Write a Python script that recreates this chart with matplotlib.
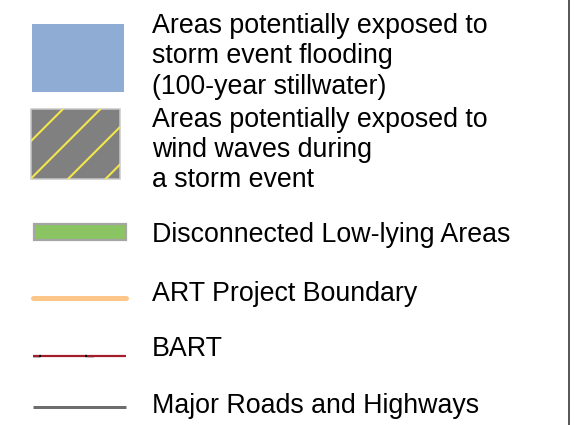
import numpy as np
import matplotlib.pyplot as plt
from matplotlib.patches import Rectangle

plt.rcParams['font.family'] = ['Liberation Sans', 'DejaVu Sans']

# legend entries (one list item per printed line)
flood_label = ['Areas potentially exposed to', 'storm event flooding', '(100-year stillwater)']
wave_label = ['Areas potentially exposed to', 'wind waves during', 'a storm event']
lowlying_label = 'Disconnected Low-lying Areas'
line_labels = ['ART Project Boundary', 'BART', 'Major Roads and Highways']
patch_colors = ['#8facd4', '#808080', '#8bc563']
patch_edges = ['none', '#c8c8c8', '#a5a5a5']
line_colors = ['#fdc689', '#a31d2a', '#6e6e6e']
hatch_color = '#f2e64e'

fig = plt.figure(figsize=(5.75, 4.25), dpi=100)
ax = fig.add_axes([0, 0, 1, 1])
ax.set_xlim(0, 575)
ax.set_ylim(425, 0)
ax.axis('off')

px = 0.72  # points per pixel
fs = 19.3
tx = 152

# flooding patch
ax.add_patch(Rectangle((32, 24), 92, 68, facecolor=patch_colors[0], edgecolor='none'))
# wind wave patch with sparse yellow hatch
r = Rectangle((31, 109), 89, 70, facecolor=patch_colors[1], edgecolor=patch_edges[1], lw=1.5 * px)
ax.add_patch(r)
for c in [172, 209.5, 247, 284.5]:
    xs = np.array([c - 200, c])
    ln, = ax.plot(xs, c - xs, color=hatch_color, lw=2.1 * px, solid_capstyle='butt')
    ln.set_clip_path(r)
# low-lying areas
ax.add_patch(Rectangle((34, 224), 92, 16, facecolor=patch_colors[2], edgecolor=patch_edges[2], lw=2.2 * px))

# multi-line labels, one baseline per line
for y, lab in zip([33, 63, 94], flood_label):
    ax.text(tx, y, lab, fontsize=fs, va='baseline', ha='left')
for y, lab in zip([127, 157, 187], wave_label):
    ax.text(tx, y, lab, fontsize=fs, va='baseline', ha='left')
ax.text(tx, 242, lowlying_label, fontsize=fs, va='baseline', ha='left')

# ART boundary
ax.plot([33, 126], [298, 298], color=line_colors[0], lw=5 * px, solid_capstyle='round')
# BART
ax.plot([33, 126], [356, 356], color=line_colors[1], lw=2.2 * px, solid_capstyle='butt')
for x0 in [33, 87]:
    ax.add_patch(Rectangle((x0, 355), 6, 2, facecolor='white', edgecolor='#888888', lw=0.5 * px))
for xb in [40, 86]:
    ax.plot([xb - 1, xb + 1], [356, 356], color='black', lw=2.2 * px, solid_capstyle='butt')
# roads
ax.plot([33, 126], [407, 407], color=line_colors[2], lw=3 * px, solid_capstyle='butt')

for y, lab in zip([301, 356, 413], line_labels):
    ax.text(tx, y, lab, fontsize=fs, va='baseline', ha='left')

# right border
ax.plot([569, 569], [0, 425], color='#222222', lw=1.5 * px)

plt.savefig('out.png', dpi=100)
